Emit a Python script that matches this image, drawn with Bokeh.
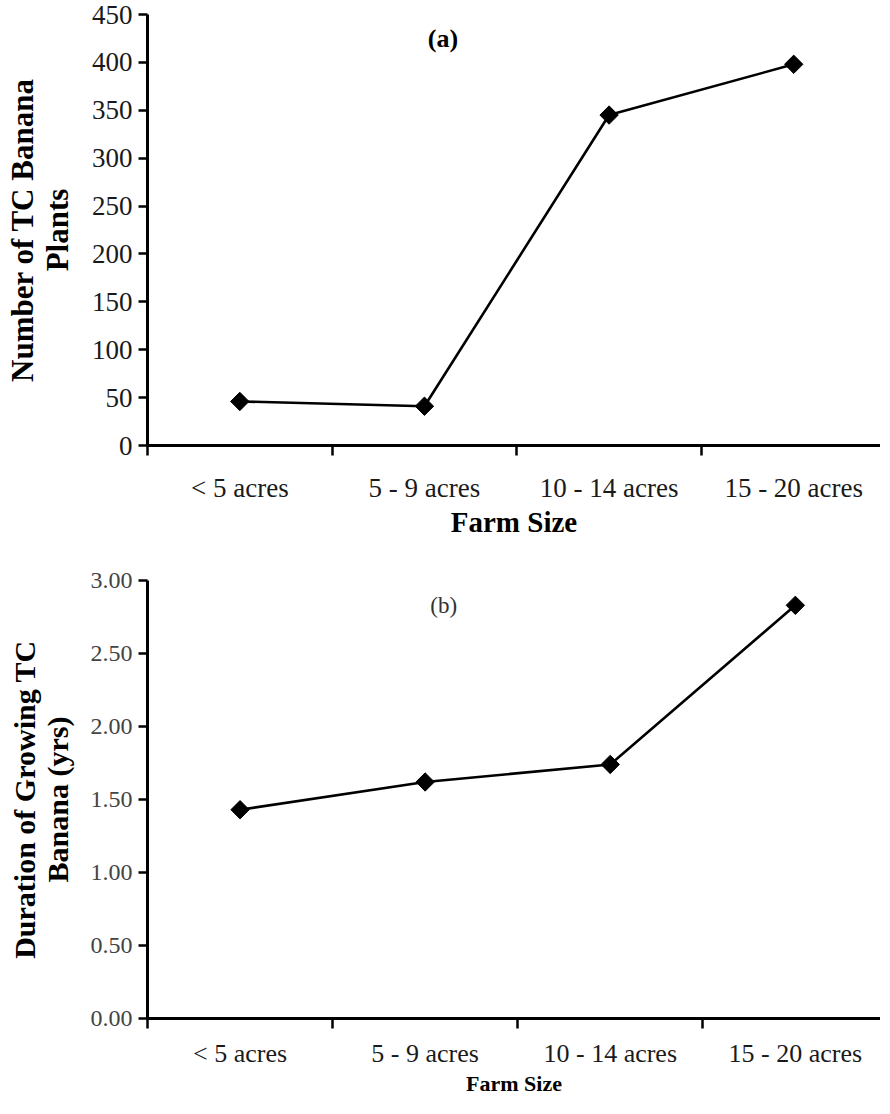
import math
from bokeh.plotting import figure
from bokeh.models import Range1d, FixedTicker, Label, NumeralTickFormatter
from bokeh.layouts import column
from bokeh.embed import file_html
from bokeh.resources import INLINE

categories = ["< 5 acres", "5 - 9 acres", "10 - 14 acres", "15 - 20 acres"]
plants = [46, 41, 345, 398]
duration = [1.43, 1.62, 1.74, 2.83]
y_ticks_a = [0, 50, 100, 150, 200, 250, 300, 350, 400, 450]
y_ticks_b = [0.0, 0.5, 1.0, 1.5, 2.0, 2.5, 3.0]

FONT = "Liberation Serif"
xs = [i + 0.5 for i in range(len(categories))]
bounds = [float(i) for i in range(len(categories) + 1)]


def make_fig(height, border_left, border_top, border_bottom, xend, yend, yticks,
             ylabel, xtick_size, ytick_size, ylab_size, xlab_size, tick_color,
             xlab_standoff, xtitle_standoff):
    p = figure(width=880, height=height, output_backend="svg", toolbar_location=None,
               x_range=Range1d(0, xend), y_range=Range1d(0, yend),
               min_border_left=border_left, min_border_right=0,
               min_border_top=border_top, min_border_bottom=border_bottom)
    p.outline_line_color = None
    p.xgrid.visible = False
    p.ygrid.visible = False
    p.background_fill_color = "white"
    p.border_fill_color = "white"

    xa = p.xaxis[0]
    xa.ticker = FixedTicker(ticks=xs, minor_ticks=bounds)
    xa.major_label_overrides = {x: c for x, c in zip(xs, categories)}
    xa.major_tick_out = 0
    xa.major_tick_in = 0
    xa.minor_tick_out = 10
    xa.minor_tick_in = 0
    xa.minor_tick_line_width = 2.5
    xa.minor_tick_line_color = "black"
    xa.axis_line_width = 3
    xa.axis_line_color = "black"
    xa.major_label_text_font = FONT
    xa.major_label_text_font_size = f"{xtick_size}px"
    xa.major_label_text_color = "#1a1a1a"
    xa.major_label_standoff = xlab_standoff
    xa.axis_label = "Farm Size"
    xa.axis_label_text_font = FONT
    xa.axis_label_text_font_style = "bold"
    xa.axis_label_text_font_size = f"{xlab_size}px"
    xa.axis_label_text_color = "black"
    xa.axis_label_standoff = xtitle_standoff

    ya = p.yaxis[0]
    ya.ticker = FixedTicker(ticks=yticks)
    ya.major_tick_out = 9
    ya.major_tick_in = 0
    ya.minor_tick_out = 0
    ya.minor_tick_in = 0
    ya.major_tick_line_width = 2.5
    ya.major_tick_line_color = "black"
    ya.axis_line_width = 3
    ya.axis_line_color = "black"
    ya.major_label_text_font = FONT
    ya.major_label_text_font_size = f"{ytick_size}px"
    ya.major_label_text_color = tick_color
    ya.major_label_standoff = 6
    ya.axis_label = ylabel
    ya.axis_label_text_font = FONT
    ya.axis_label_text_font_style = "bold"
    ya.axis_label_text_font_size = f"{ylab_size}px"
    ya.axis_label_text_line_height = 1.0
    ya.axis_label_text_color = "black"
    ya.axis_label_standoff = 14
    return p


pa = make_fig(540, 142, 14, 80, 3.97, 450, y_ticks_a,
              "Number of TC Banana\nPlants", 27, 27, 31, 29, "#1a1a1a", 17, 0)
pa.line(xs, plants, line_color="black", line_width=2.6)
pa.scatter(xs, plants, marker="square", angle=math.pi / 4, size=13,
           fill_color="black", line_color="black")
pa.add_layout(Label(x=1.6, y=425, text="(a)", text_font=FONT, text_font_style="bold",
                    text_font_size="26px", text_align="center", text_baseline="middle",
                    text_color="black"))

pb = make_fig(558, 147, 40, 74, 3.96, 3.0, y_ticks_b,
              "Duration of Growing TC\nBanana (yrs)", 26, 24, 30, 22, "#444444", 10, 0)
pb.yaxis[0].formatter = NumeralTickFormatter(format="0.00")
pb.line(xs, duration, line_color="black", line_width=2.6)
pb.scatter(xs, duration, marker="square", angle=math.pi / 4, size=13,
           fill_color="black", line_color="black")
pb.add_layout(Label(x=1.6, y=2.83, text="(b)", text_font=FONT,
                    text_font_size="23px", text_align="center", text_baseline="middle",
                    text_color="#333333"))

layout = column(pa, pb, spacing=0)
open("out.html", "w").write(file_html(layout, INLINE))
